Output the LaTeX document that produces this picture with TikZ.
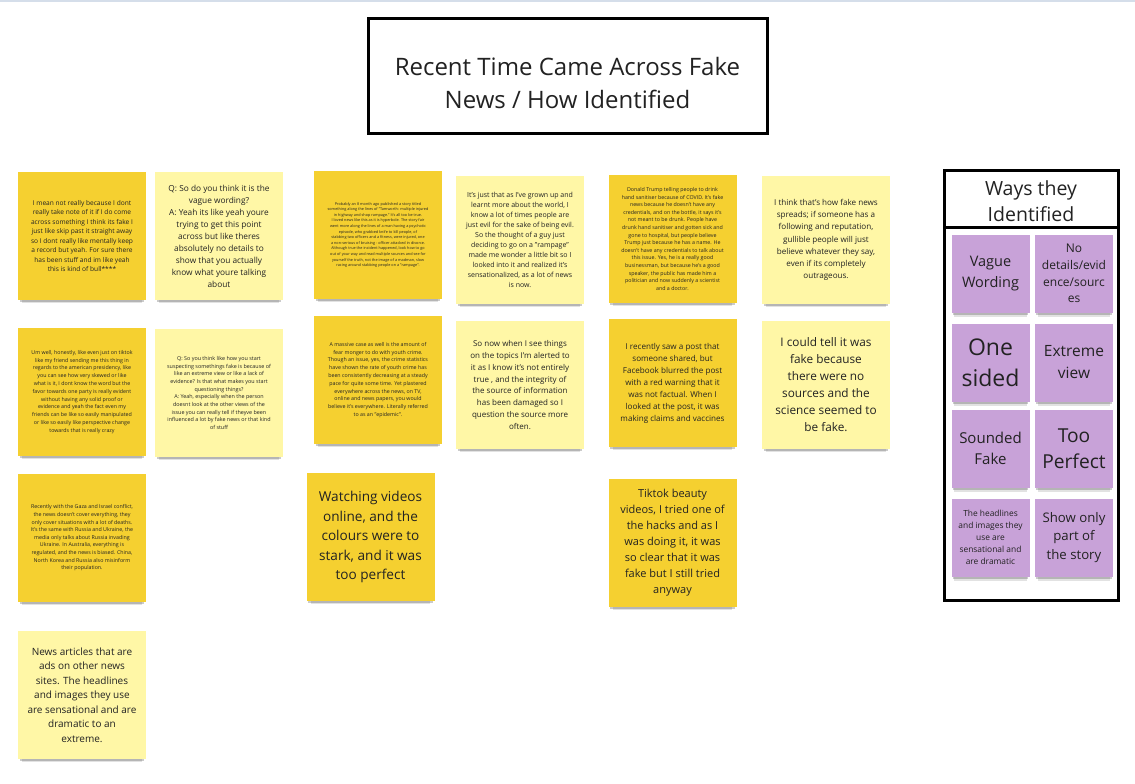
\documentclass[tikz,border=0pt]{standalone}
\usepackage{fontspec}
\setmainfont{Open Sans}
\usetikzlibrary{shadows}
\definecolor{stickyDark}{HTML}{F5D030}
\definecolor{stickyLight}{HTML}{FFF7A6}
\definecolor{stickyViolet}{HTML}{C8A2D8}
\definecolor{inkGrey}{HTML}{222222}
\definecolor{topLine}{HTML}{D5DEEA}
\newcommand{\notesize}[2]{\fontsize{#1}{#2}\selectfont}

\begin{document}
\begin{tikzpicture}[
  x=1pt, y=-1pt,
  sticky/.style={
    rectangle,
    minimum width=128pt,
    minimum height=128pt,
    inner sep=0pt,
    align=center,
    text=inkGrey,
    drop shadow={shadow xshift=0pt, shadow yshift=-4pt, shadow scale=0.97,
                 opacity=0.25, fill=black!80},
    drop shadow={shadow xshift=0pt, shadow yshift=-8pt, shadow scale=0.93,
                 opacity=0.14, fill=black!80}
  },
  darkNote/.style={sticky, fill=stickyDark},
  lightNote/.style={sticky, fill=stickyLight},
  violetNote/.style={sticky, fill=stickyViolet,
                     minimum width=78pt, minimum height=78pt},
  frame/.style={draw=black, line width=3pt, rectangle, inner sep=0pt,
                align=center, text=inkGrey},
]
\useasboundingbox[fill=white] (0,0) rectangle (1135,784);
\draw[draw=topLine, line width=1.5pt] (0,1) -- (1135,1);

% Title.
\node[frame, minimum width=399pt, minimum height=114pt, text height=64.5pt,
      font=\notesize{24}{33}] (title) at (567.5,76)
  {Recent Time Came Across Fake\\News / How Identified};

% First row of notes.
\node[darkNote, font=\notesize{6.6}{9.5}] (unaware) at (82,236)
  {I mean not really because I dont\\really take note of it if I do come\\across something I think its fake I\\just like skip past it straight away\\so I dont really like mentally keep\\a record but yeah. For sure there\\has been stuff and im like yeah\\this is kind of bull****};
\node[lightNote, font=\notesize{8.3}{12}] (vague) at (219,236)
  {Q: So do you think it is the\\vague wording?\\A: Yeah its like yeah youre\\trying to get this point\\across but like theres\\absolutely no details to\\show that you actually\\know what youre talking\\about};
\node[darkNote, font=\notesize{3.8}{5.6}] (rampage) at (378,235)
  {Probably an 8 month ago published a story titled\\something along the lines of "Tamworth: multiple injured\\in highway and shop rampage." It's all too be true.\\I loved news like this as it is hyperbole. The story fair\\went more along the lines of a man having a psychotic\\episode, who grabbed knife to kill people, of\\stabbing two officers and a fitness, were injured, one\\a non-serious of bruising - officer attacked in divorce.\\Although true the incident happened, look how to go\\out of your way and read multiple sources and see for\\yourself the truth, not the image of a madman, slow\\racing around stabbing people on a "rampage".};
\node[lightNote, font=\notesize{7}{10}] (evil) at (520,240)
  {It's just that as I've grown up and\\learnt more about the world, I\\know a lot of times people are\\just evil for the sake of being evil.\\So the thought of a guy just\\deciding to go on a "rampage"\\made me wonder a little bit so I\\looked into it and realized it's\\sensationalized, as a lot of news\\is now.};
\node[darkNote, font=\notesize{5.3}{7.6}] (trump) at (672.5,239)
  {Donald Trump telling people to drink\\hand sanitiser because of COVID. It's fake\\news because he doesn't have any\\credentials, and on the bottle, it says it's\\not meant to be drunk. People have\\drunk hand sanitiser and gotten sick and\\gone to hospital, but people believe\\Trump just because he has a name. He\\doesn't have any credentials to talk about\\this issue. Yes, he is a really good\\businessman, but because he's a good\\speaker, the public has made him a\\politician and now suddenly a scientist\\and a doctor.};
\node[lightNote, font=\notesize{8.1}{12.2}] (spreads) at (826,240)
  {I think that's how fake news\\spreads; if someone has a\\following and reputation,\\gullible people will just\\believe whatever they say,\\even if its completely\\outrageous.};

% Second row of notes.
\node[darkNote, font=\notesize{5.3}{7.8}] (tiktokQ) at (82,392)
  {Um well, honestly, like even just on tiktok\\like my friend sending me this thing in\\regards to the american presidency, like\\you can see how very skewed or like\\what is it, I dont know the word but the\\favor towards one party is really evident\\without having any solid proof or\\evidence and yeah the fact even my\\friends can be like so easily manipulated\\or like so easily like perspective change\\towards that is really crazy};
\node[lightNote, font=\notesize{5.4}{7.7}] (extremeQ) at (219,393)
  {Q: So you think like how you start\\suspecting somethings fake is because of\\like an extreme view or like a lack of\\evidence? Is that what makes you start\\questioning things?\\A: Yeah, especially when the person\\doesnt look at the other views of the\\issue you can really tell if theyve been\\influenced a lot by fake news or that kind\\of stuff};
\node[darkNote, font=\notesize{5.3}{7.8}] (youth) at (378,380)
  {A massive case as well is the amount of\\fear monger to do with youth crime.\\Though an issue, yes, the crime statistics\\have shown the rate of youth crime has\\been consistently decreasing at a steady\\pace for quite some time. Yet plastered\\everywhere across the news, on TV,\\online and news papers, you would\\believe it's everywhere. Literally referred\\to as an "epidemic".};
\node[lightNote, font=\notesize{8}{11.8}] (alerted) at (520,385)
  {So now when I see things\\on the topics I'm alerted to\\it as I know it's not entirely\\true , and the integrity of\\the source of information\\has been damaged so I\\question the source more\\often.};
\node[darkNote, font=\notesize{8.1}{12}] (facebook) at (672.5,383)
  {I recently saw a post that\\someone shared, but\\Facebook blurred the post\\with a red warning that it\\was not factual. When I\\looked at the post, it was\\making claims and vaccines};
\node[lightNote, font=\notesize{11.8}{17}] (nosources) at (826,385)
  {I could tell it was\\fake because\\there were no\\sources and the\\science seemed to\\be fake.};

% Third and fourth rows.
\node[darkNote, font=\notesize{5.3}{7.6}] (gaza) at (82,538)
  {Recently with the Gaza and Israel conflict,\\the news doesn't cover everything, they\\only cover situations with a lot of deaths.\\It's the same with Russia and Ukraine, the\\media only talks about Russia invading\\Ukraine. In Australia, everything is\\regulated, and the news is biased. China,\\North Korea and Russia also misinform\\their population.};
\node[darkNote, font=\notesize{13.6}{19.5}] (videos) at (370.5,537)
  {Watching videos\\online, and the\\colours were to\\stark, and it was\\too perfect};
\node[darkNote, font=\notesize{11}{16}] (beauty) at (672.5,543)
  {Tiktok beauty\\videos, I tried one of\\the hacks and as I\\was doing it, it was\\so clear that it was\\fake but I still tried\\anyway};
\node[lightNote, font=\notesize{10}{14.5}] (ads) at (82,695)
  {News articles that are\\ads on other news\\sites. The headlines\\and images they use\\are sensational and are\\dramatic to an\\extreme.};

% Ways they identified.
\node[frame, minimum width=174pt, minimum height=57pt, text height=45.7pt,
      font=\notesize{19.5}{26}] (waysHead) at (1031,198.5)
  {Ways they\\Identified};
\node[frame, minimum width=174pt, minimum height=373pt] (waysBody)
  at (1031,413.5) {};

\node[violetNote, font=\notesize{14.5}{21}] (wVague) at (990.5,273.5)
  {Vague\\Wording};
\node[violetNote, font=\notesize{12}{16.7}] (wDetails) at (1074,273.5)
  {No\\details/evid\\ence/sourc\\es};
\node[violetNote, font=\notesize{23}{31}] (wSided) at (990.5,362.5)
  {One\\sided};
\node[violetNote, font=\notesize{15.5}{22}] (wExtreme) at (1074,362.5)
  {Extreme\\view};
\node[violetNote, font=\notesize{15}{21}] (wSounded) at (990.5,448.5)
  {Sounded\\Fake};
\node[violetNote, font=\notesize{19.2}{26}] (wPerfect) at (1074,448.5)
  {Too\\Perfect};
\node[violetNote, font=\notesize{8.4}{12}] (wHeadlines) at (990.5,537.5)
  {The headlines\\and images they\\use are\\sensational and\\are dramatic};
\node[violetNote, font=\notesize{13.2}{18.5}] (wPart) at (1074,537.5)
  {Show only\\part of\\the story};

\end{tikzpicture}
\end{document}
